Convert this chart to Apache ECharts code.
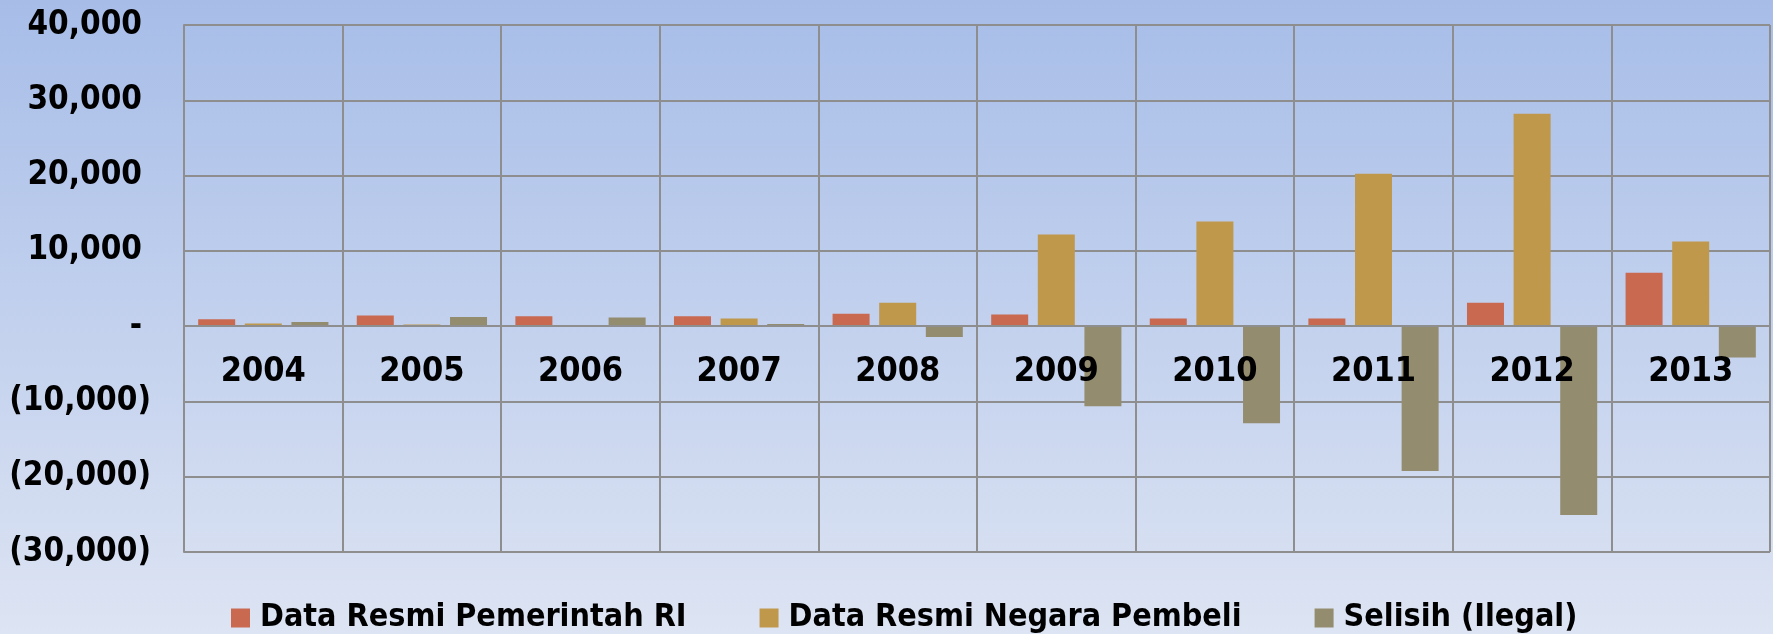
<!DOCTYPE html>
<html><head><meta charset="utf-8">
<script src="https://cdn.jsdelivr.net/npm/echarts@6/dist/echarts.min.js"></script>
<style>html,body{margin:0;padding:0;background:#fff;}#c{width:1773px;height:634px;}</style>
</head><body><div id="c"></div>
<script>
const years = ['2004','2005','2006','2007','2008','2009','2010','2011','2012','2013'];
const seriesNames = ['Data Resmi Pemerintah RI','Data Resmi Negara Pembeli','Selisih (Ilegal)'];
const pemerintah = [900, 1420, 1300, 1300, 1650, 1550, 1000, 1020, 3100, 7080];
const negara = [350, 220, 150, 1000, 3100, 12180, 13900, 20250, 28200, 11250];
const selisih = [550, 1200, 1150, 300, -1450, -10630, -12900, -19230, -25100, -4170];
const yMin = -30000, yMax = 40000, yStep = 10000;
const colors = ['#c96950', '#c0984c', '#948c6e'];

const txt = {fontFamily: '"DejaVu Sans Condensed", "DejaVu Sans"', fontWeight: 'bold', color: '#000'};

function yFmt(v) {
  if (v === 0) return '{p|-}';
  const s = Math.abs(v).toLocaleString('en-US');
  return v < 0 ? '{n|(' + s + ')}' : '{p|' + s + '}';
}

const gridTop = 25, gridBottom = 82, H = 634;
const plotH = H - gridTop - gridBottom;
const zeroOffset = plotH * (0 - yMin) / (yMax - yMin);

const chart = echarts.init(document.getElementById('c'), null, {renderer: 'canvas'});
chart.setOption({
  backgroundColor: new echarts.graphic.LinearGradient(0, 0, 0, 1, [
    {offset: 0, color: '#a7bde8'},
    {offset: 1, color: '#dde4f3'}
  ]),
  animation: false,
  grid: {left: 184, right: 3, top: gridTop, bottom: gridBottom, containLabel: false},
  legend: {
    data: seriesNames,
    left: 231, top: 602, padding: 0,
    itemWidth: 19, itemHeight: 19, itemGap: 73,
    icon: 'rect',
    textStyle: Object.assign({fontSize: 32, padding: [0, 0, 0, 5]}, txt)
  },
  xAxis: [{
    type: 'category',
    data: years,
    z: 10,
    position: 'bottom',
    offset: -zeroOffset,
    axisLine: {onZero: false, lineStyle: {color: '#8e8e8e', width: 2}},
    axisTick: {show: false},
    splitLine: {show: true, lineStyle: {color: '#8e8e8e', width: 2}},
    axisLabel: Object.assign({fontSize: 34, margin: 29}, txt)
  }],
  yAxis: {
    type: 'value',
    min: yMin, max: yMax, interval: yStep,
    axisLine: {show: true, lineStyle: {color: '#8e8e8e', width: 2}},
    axisTick: {show: false},
    splitLine: {show: true, lineStyle: {color: '#8e8e8e', width: 2}},
    axisLabel: {
      margin: 33,
      formatter: yFmt,
      rich: {
        p: Object.assign({fontSize: 33, padding: [0, 9, 0, 0]}, txt),
        n: Object.assign({fontSize: 33}, txt)
      }
    }
  },
  series: [
    {name: seriesNames[0], type: 'bar', data: pemerintah, barWidth: 37, barGap: '26%', itemStyle: {color: colors[0]}},
    {name: seriesNames[1], type: 'bar', data: negara, barWidth: 37, barGap: '26%', itemStyle: {color: colors[1]}},
    {name: seriesNames[2], type: 'bar', data: selisih, barWidth: 37, barGap: '26%', itemStyle: {color: colors[2]}}
  ]
});
</script>
</body></html>
